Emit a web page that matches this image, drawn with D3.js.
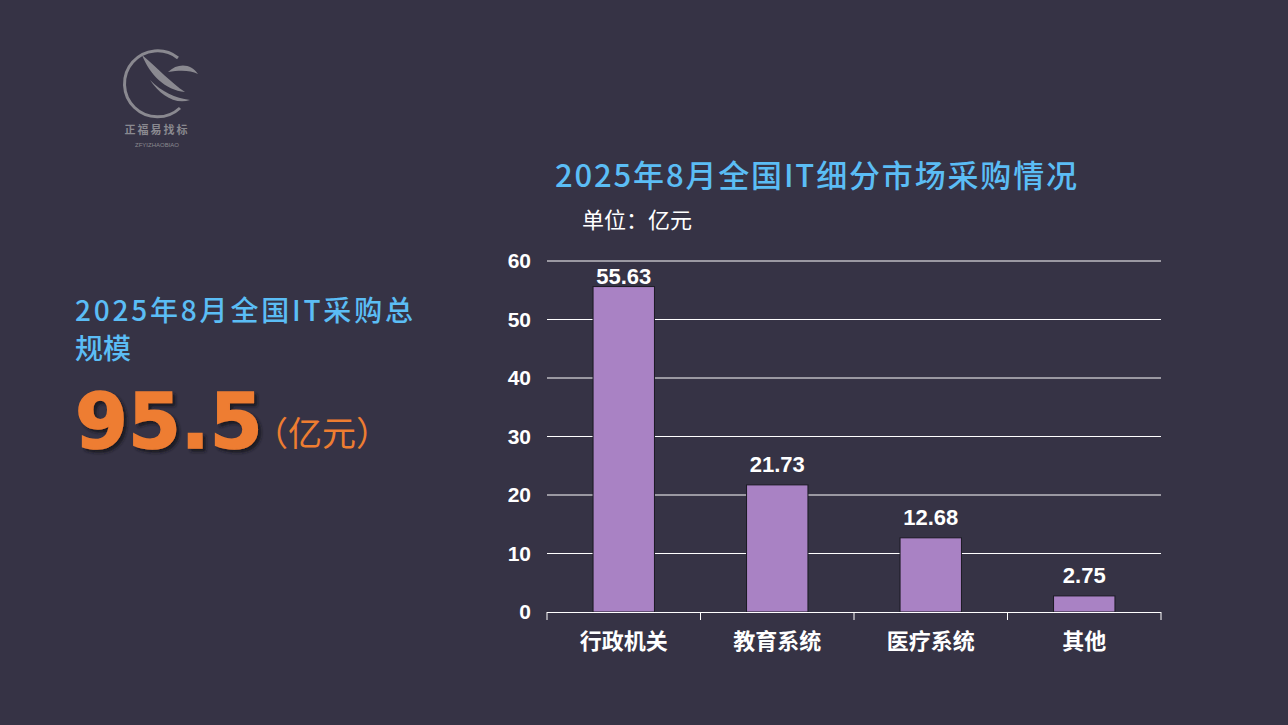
<!DOCTYPE html>
<html><head><meta charset="utf-8">
<script src="https://cdn.jsdelivr.net/npm/d3@7"></script>
<style>body{margin:0;background:#363345;}svg{display:block;}</style>
</head><body><svg id="c" width="1288" height="725"></svg>
<script>
const categories = ["行政机关","教育系统","医疗系统","其他"];
const values = [55.63, 21.73, 12.68, 2.75];
const yTicks = [0,10,20,30,40,50,60];

const svg = d3.select("#c");
const F = "'Liberation Sans','Noto Sans CJK SC',sans-serif";
const C = "'Noto Sans CJK SC',sans-serif";
const defs = svg.append("defs");
const flt = defs.append("filter").attr("id","sh").attr("x","-10%").attr("y","-10%").attr("width","130%").attr("height","130%");
flt.append("feDropShadow").attr("dx",3).attr("dy",3).attr("stdDeviation",1.5).attr("flood-color","#15131c").attr("flood-opacity",0.9);
svg.append("rect").attr("width",1288).attr("height",725).attr("fill","#363345");

// logo
const g0 = svg.append("g");
g0.append("path").attr("d","M178,58 A33,33 0 1,0 180,108").attr("fill","none").attr("stroke","#8a8990").attr("stroke-width",3);
g0.append("path").attr("d","M142,55 C150,75 165,90 185,92 C170,82 160,70 142,55Z M150,80 C160,95 175,105 190,100 C175,98 162,92 150,80Z M168,72 C178,62 192,64 198,74 C190,70 180,70 168,72Z").attr("fill","#8a8990");
g0.append("text").attr("x",157).attr("y",134).attr("text-anchor","middle").attr("fill","#8a8990").attr("font-size",11).attr("font-family",C).attr("font-weight","bold").attr("letter-spacing",2).text("正福易找标");
g0.append("text").attr("x",157).attr("y",147).attr("text-anchor","middle").attr("fill","#8a8990").attr("font-size",6).attr("font-family",F).text("ZFYIZHAOBIAO");

// left text
svg.append("text").attr("x",75).attr("y",321).attr("fill","#5bbdf5").attr("font-size",28).attr("font-weight","500").attr("font-family",C).attr("textLength",338).text("2025年8月全国IT采购总");
svg.append("text").attr("x",75).attr("y",359).attr("fill","#5bbdf5").attr("font-size",28).attr("font-weight","500").attr("font-family",C).text("规模");
svg.append("text").attr("x",75).attr("y",448).attr("fill","#ee7d31").attr("font-size",76).attr("font-weight","900").attr("font-family","'DejaVu Sans',sans-serif").attr("stroke","#ee7d31").attr("stroke-width",1.5).attr("filter","url(#sh)").text("95.5");
svg.append("text").attr("x",254).attr("y",446).attr("fill","#ee7d31").attr("font-size",34).attr("font-family",C).text("（亿元）");

// title
svg.append("text").attr("x",555).attr("y",187).attr("fill","#5bbdf5").attr("font-size",31).attr("font-weight","500").attr("font-family",C).attr("textLength",522).text("2025年8月全国IT细分市场采购情况");
svg.append("text").attr("x",582).attr("y",228).attr("fill","#ffffff").attr("font-size",22).attr("font-family",C).text("单位：亿元");

const x = d3.scaleBand().domain(categories).range([547,1161]).paddingInner(0.6).paddingOuter(0.3);
const y = d3.scaleLinear().domain([0,60]).range([612,261]);

svg.append("g").selectAll("line").data(yTicks.slice(1)).join("line")
 .attr("x1",547).attr("x2",1161).attr("y1",d=>y(d)).attr("y2",d=>y(d)).attr("stroke","#ffffff").attr("stroke-width",1);
svg.append("g").selectAll("text").data(yTicks).join("text")
 .attr("x",531).attr("y",d=>y(d)+7).attr("text-anchor","end").attr("fill","#fff").attr("font-size",21).attr("font-weight","bold").attr("font-family",F).text(d=>d);

svg.append("g").selectAll("rect").data(values).join("rect")
 .attr("x",(d,i)=>x(categories[i])).attr("width",x.bandwidth()).attr("y",d=>y(d)).attr("height",d=>y(0)-y(d))
 .attr("fill","#a982c4").attr("stroke","#1a1a22").attr("stroke-width",1);
svg.append("g").selectAll("text").data(values).join("text")
 .attr("x",(d,i)=>x(categories[i])+x.bandwidth()/2).attr("y",d=>Math.max(y(d)-13,284)).attr("text-anchor","middle")
 .attr("fill","#fff").attr("font-size",22).attr("font-weight","bold").attr("font-family",F).text(d=>d.toFixed(2));

// x axis
svg.append("line").attr("x1",547).attr("x2",1161).attr("y1",612.5).attr("y2",612.5).attr("stroke","#fff");
const step = (1161-547)/4;
svg.append("g").selectAll("line").data([0,1,2,3,4]).join("line")
 .attr("x1",i=>547+i*step).attr("x2",i=>547+i*step).attr("y1",612).attr("y2",620).attr("stroke","#fff");
svg.append("g").selectAll("text").data(categories).join("text")
 .attr("x",d=>x(d)+x.bandwidth()/2).attr("y",649).attr("text-anchor","middle").attr("fill","#fff")
 .attr("font-size",22).attr("font-weight","bold").attr("font-family",C).text(d=>d);
</script></body></html>
